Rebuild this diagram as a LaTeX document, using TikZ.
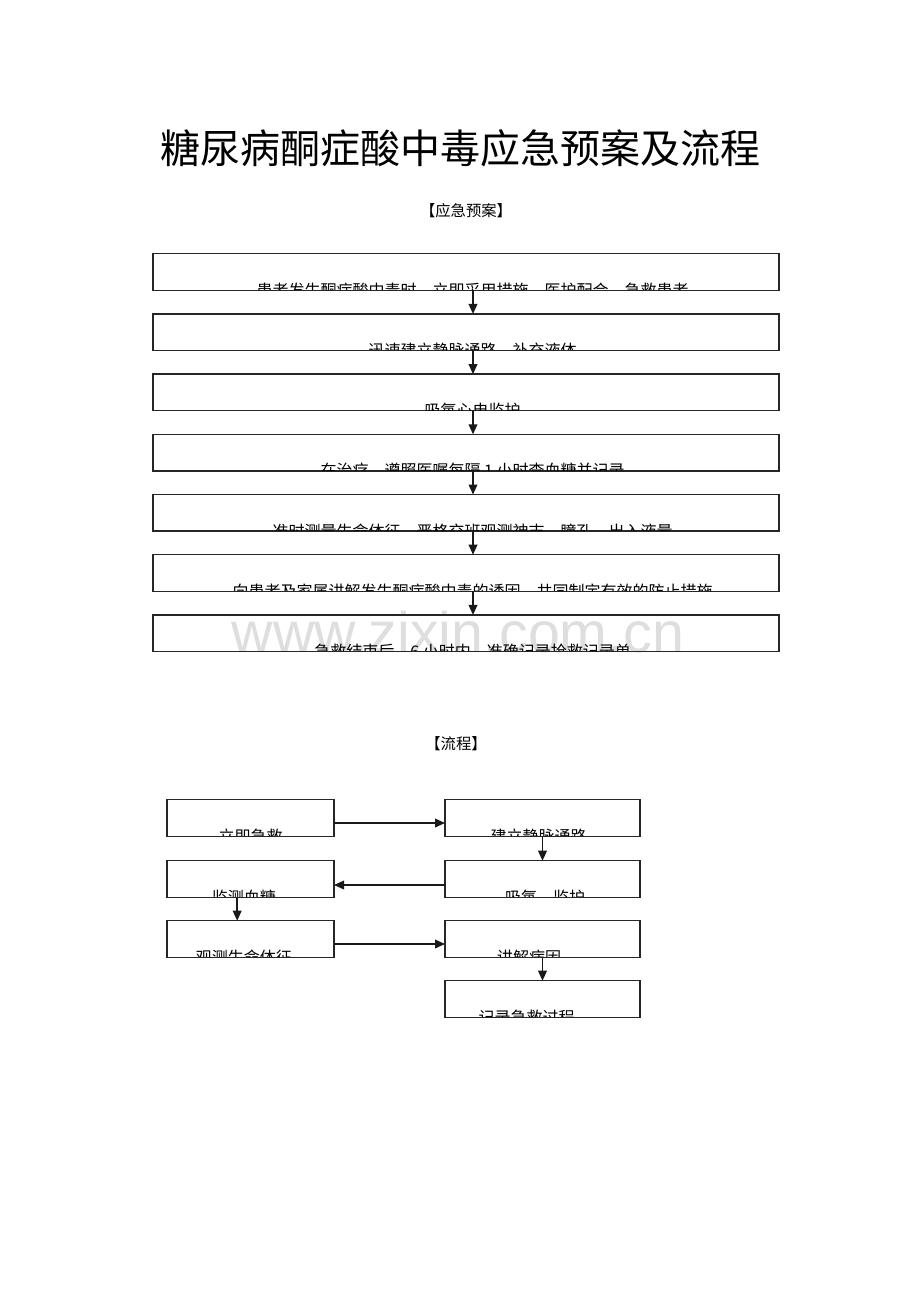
\documentclass[tikz,border=0pt]{standalone}
\usepackage{fontspec}
\setmainfont{Noto Sans CJK SC}
\newfontfamily\wmfont{Liberation Sans}
\usetikzlibrary{arrows.meta,calc}
\newcommand\cliptxt[4]{%
  \begin{scope}
    \clip ([yshift=0.5pt]#1.south west) rectangle ([yshift=-0.5pt]#1.north east);
    \node[btxt] (#2) at ([xshift=#3,yshift=-4.5pt]#1.south) {#4};
  \end{scope}}
\begin{document}
\begin{tikzpicture}[x=0.75pt,y=-0.75pt,
  box/.style={draw=black!85,line width=1pt,inner sep=0,outer sep=0},
  mbox/.style={box,minimum width=469.5pt,minimum height=27.4pt},
  lbox/.style={box,minimum width=125.25pt,minimum height=27.4pt},
  rbox/.style={box,minimum width=146.25pt,minimum height=27.4pt},
  btxt/.style={anchor=base,inner sep=0,font=\fontsize{12pt}{12pt}\selectfont},
  arr/.style={-{Triangle[length=7.5pt,width=6.5pt]},line width=1.1pt,draw=black!90}]
\useasboundingbox[fill=white] (0,0) rectangle (920,1302);

% watermark
\node[anchor=base,inner sep=0,text=black!13,font=\wmfont\fontsize{43pt}{43pt}\selectfont] (wm) at (458,652) {www.zixin.com.cn};

% titles
\node[inner sep=0,font=\fontsize{30pt}{30pt}\selectfont] (title) at (460,148) {糖尿病酮症酸中毒应急预案及流程};
\node[inner sep=0,font=\fontsize{11.5pt}{11.5pt}\selectfont] (sub1) at (466,211) {【应急预案】};
\node[inner sep=0,font=\fontsize{11.5pt}{11.5pt}\selectfont] (sub2) at (456,744) {【流程】};

% emergency plan boxes
\node[mbox] (b1) at (466,272) {};
\node[mbox] (b2) at (466,332.2) {};
\node[mbox] (b3) at (466,392.4) {};
\node[mbox] (b4) at (466,452.6) {};
\node[mbox] (b5) at (466,512.8) {};
\node[mbox] (b6) at (466,573) {};
\node[mbox] (b7) at (466,633.2) {};
\cliptxt{b1}{t1}{5pt}{患者发生酮症酸中毒时，立即采用措施，医护配合，急救患者}
\cliptxt{b2}{t2}{5pt}{迅速建立静脉通路，补充液体}
\cliptxt{b3}{t3}{5pt}{吸氧心电监护}
\cliptxt{b4}{t4}{5pt}{在治疗，遵照医嘱每隔 1 小时查血糖并记录}
\cliptxt{b5}{t5}{5pt}{准时测量生命体征，严格交班观测神志、瞳孔、出入液量}
\cliptxt{b6}{t6}{5pt}{向患者及家属讲解发生酮症酸中毒的诱因，共同制定有效的防止措施}
\cliptxt{b7}{t7}{5pt}{急救结束后，6 小时内，准确记录抢救记录单}
\coordinate (ax) at (473,0);
\foreach \a/\b in {b1/b2,b2/b3,b3/b4,b4/b5,b5/b6,b6/b7}
  \draw[arr] (\a.south -| ax) -- (\b.north -| ax);

% flow boxes
\node[lbox] (f1) at (250.5,818) {};
\node[rbox] (f2) at (542.5,818) {};
\node[rbox] (f3) at (542.5,879) {};
\node[lbox] (f4) at (250.5,879) {};
\node[lbox] (f5) at (250.5,939) {};
\node[rbox] (f6) at (542.5,939) {};
\node[rbox] (f7) at (542.5,999) {};
\cliptxt{f1}{g1}{0pt}{立即急救}
\cliptxt{f2}{g2}{-3pt}{建立静脉通路}
\cliptxt{f3}{g3}{2pt}{吸氧、监护}
\cliptxt{f4}{g4}{-5pt}{监测血糖}
\cliptxt{f5}{g5}{-5pt}{观测生命体征}
\cliptxt{f6}{g6}{-10pt}{讲解病因}
\cliptxt{f7}{g7}{-12pt}{记录急救过程}
\draw[arr] ([yshift=-3.75pt]f1.east) -- ([yshift=-3.75pt]f2.west);
\draw[arr] (f2.south) -- (f3.north);
\draw[arr] ([yshift=-4.5pt]f3.west) -- ([yshift=-4.5pt]f4.east);
\draw[arr] ([xshift=-10pt]f4.south) -- ([xshift=-10pt]f5.north);
\draw[arr] ([yshift=-3.75pt]f5.east) -- ([yshift=-3.75pt]f6.west);
\draw[arr] (f6.south) -- (f7.north);
\end{tikzpicture}
\end{document}
